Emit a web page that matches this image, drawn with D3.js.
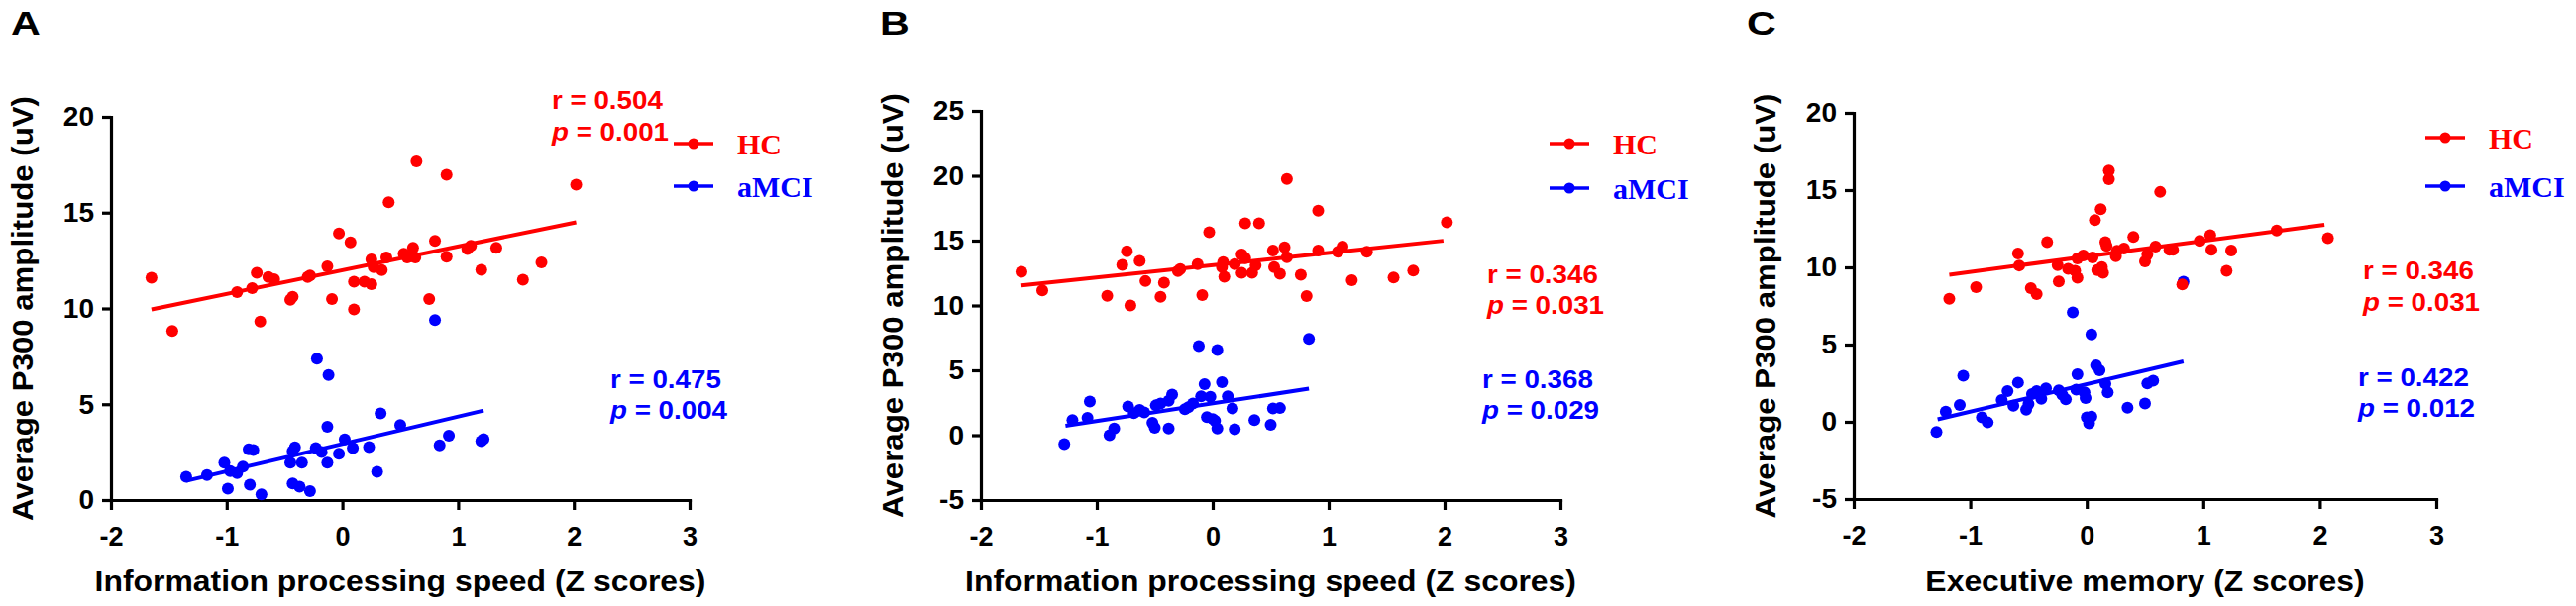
<!DOCTYPE html>
<html>
<head>
<meta charset="utf-8">
<script src="https://cdn.jsdelivr.net/npm/d3@7"></script>
<style>
  body { margin: 0; background: #fff; }
  svg text { font-family: "Liberation Sans", Arial, sans-serif; font-weight: bold; }
</style>
</head>
<body>
<svg id="chart" width="2600" height="612"></svg>
<script>

//******************************************************************************
//**  Data
//******************************************************************************
var panelLetters = ["A", "B", "C"];
var xTitles = [
    "Information processing speed (Z scores)",
    "Information processing speed (Z scores)",
    "Executive memory (Z scores)"
];
var yTitle = "Average P300 amplitude (uV)";
var groups = ["HC", "aMCI"];
var xTicks = [-2, -1, 0, 1, 2, 3];
var yTicksA = [0, 5, 10, 15, 20];
var yTicksB = [-5, 0, 5, 10, 15, 20, 25];
var yTicksC = [-5, 0, 5, 10, 15, 20];

var hcA = [
    [-1.65,11.6],[-1.47,8.82],[-0.91,10.85],[-0.78,11.06],[-0.74,11.86],[-0.71,9.31],
    [-0.64,11.64],[-0.59,11.52],[-0.45,10.45],[-0.43,10.61],[-0.30,11.64],[-0.28,11.72],
    [-0.13,12.2],[-0.09,10.49],[-0.03,13.91],[0.07,13.45],[0.10,11.4],[0.10,9.95],
    [0.19,11.4],[0.25,11.26],[0.25,12.56],[0.27,12.16],[0.34,12.0],[0.38,12.66],
    [0.40,15.54],[0.53,12.86],[0.56,12.66],[0.61,13.17],[0.63,12.66],[0.64,17.67],
    [0.75,10.49],[0.80,13.53],[0.90,12.7],[0.90,16.98],[1.08,13.1],[1.11,13.27],
    [1.20,12.02],[1.33,13.17],[1.56,11.5],[1.72,12.4],[2.02,16.46]
];
var amciA = [
    [-1.35,1.21],[-1.17,1.31],[-1.02,1.95],[-0.99,0.60],[-0.97,1.51],[-0.91,1.41],
    [-0.86,1.75],[-0.81,2.65],[-0.80,0.80],[-0.77,2.61],[-0.70,0.30],[-0.45,1.95],
    [-0.43,2.55],[-0.41,2.75],[-0.43,0.86],[-0.37,0.70],[-0.35,1.95],[-0.28,0.46],
    [-0.23,2.71],[-0.22,7.38],[-0.18,2.51],[-0.13,1.95],[-0.13,3.82],[-0.12,6.53],
    [-0.03,2.41],[0.02,3.16],[0.09,2.71],[0.23,2.77],[0.30,1.47],[0.33,4.52],
    [0.50,3.92],[0.80,9.39],[0.84,2.85],[0.92,3.36],[1.20,3.08],[1.22,3.18]
];
var hcB = [
    [-1.65,12.6],[-1.47,11.16],[-0.91,10.75],[-0.78,13.13],[-0.74,14.18],[-0.71,10.0],
    [-0.63,13.43],[-0.58,11.88],[-0.45,10.66],[-0.42,11.76],[-0.30,12.66],[-0.28,12.81],
    [-0.13,13.19],[-0.09,10.81],[-0.03,15.64],[0.08,12.96],[0.09,13.34],[0.10,12.21],
    [0.19,13.19],[0.25,12.51],[0.25,13.94],[0.28,13.64],[0.28,16.33],[0.34,12.51],
    [0.37,13.1],[0.40,16.33],[0.52,14.24],[0.53,12.96],[0.58,12.45],[0.62,14.48],
    [0.64,13.73],[0.64,19.76],[0.76,12.36],[0.81,10.72],[0.91,14.24],[0.91,17.31],
    [1.08,14.15],[1.12,14.54],[1.20,11.94],[1.33,14.15],[1.56,12.15],[1.73,12.69],
    [2.02,16.42]
];
var amciB = [
    [-1.28,-0.69],[-1.21,1.16],[-1.08,1.34],[-1.06,2.6],[-0.89,0.0],[-0.85,0.51],
    [-0.73,2.21],[-0.68,1.70],[-0.63,1.94],[-0.59,1.76],[-0.52,0.96],[-0.50,0.57],
    [-0.49,2.30],[-0.45,2.45],[-0.38,0.51],[-0.38,2.66],[-0.35,3.13],[-0.24,2.0],
    [-0.21,2.15],[-0.17,2.45],[-0.12,6.87],[-0.10,2.99],[-0.07,3.94],[-0.05,1.40],
    [-0.02,2.96],[0.0,1.25],[0.02,1.10],[0.04,0.51],[0.04,6.57],[0.08,4.09],
    [0.13,2.99],[0.17,2.06],[0.19,0.45],[0.36,1.16],[0.50,0.81],[0.52,2.06],
    [0.58,2.09],[0.83,7.43]
];
var hcC = [
    [-1.18,7.97],[-0.95,8.72],[-0.59,10.89],[-0.58,10.12],[-0.48,8.65],[-0.43,8.27],
    [-0.34,11.64],[-0.25,10.14],[-0.24,9.09],[-0.16,9.9],[-0.10,9.77],[-0.08,9.32],
    [-0.08,10.57],[-0.03,10.77],[0.05,10.64],[0.07,13.06],[0.09,9.82],[0.12,13.76],
    [0.13,10.02],[0.14,9.64],[0.16,11.64],[0.17,11.39],[0.19,16.26],[0.19,15.71],
    [0.25,10.72],[0.26,11.07],[0.32,11.22],[0.40,11.97],[0.50,10.39],[0.52,10.84],
    [0.59,11.34],[0.63,14.88],[0.71,11.14],[0.74,11.14],[0.82,8.9],[0.97,11.72],
    [1.06,12.09],[1.07,11.14],[1.20,9.77],[1.24,11.09],[1.63,12.39],[2.07,11.89]
];
var amciC = [
    [-1.29,-0.66],[-1.21,0.66],[-1.09,1.09],[-1.06,2.98],[-0.90,0.29],[-0.85,-0.04],
    [-0.73,1.41],[-0.68,1.99],[-0.63,1.04],[-0.59,2.54],[-0.52,0.79],[-0.50,1.16],
    [-0.47,1.79],[-0.43,1.99],[-0.39,1.49],[-0.35,2.16],[-0.24,2.04],[-0.21,1.74],
    [-0.18,1.46],[-0.12,7.08],[-0.09,2.09],[-0.08,3.08],[-0.02,1.91],[-0.01,1.54],
    [0.0,0.29],[0.02,-0.09],[0.04,0.34],[0.04,5.66],[0.08,3.66],[0.11,3.33],
    [0.16,2.46],[0.18,1.91],[0.35,0.91],[0.50,1.19],[0.52,2.49],[0.57,2.66],
    [0.83,9.07]
];

// fitted regression lines, end points
var fitHcA = [[-1.65,9.95],[2.02,14.5]];
var fitAmciA = [[-1.35,1.0],[1.22,4.67]];
var fitHcB = [[-1.65,11.55],[1.99,14.99]];
var fitAmciB = [[-1.27,0.72],[0.83,3.58]];
var fitHcC = [[-1.18,9.52],[2.04,12.76]];
var fitAmciC = [[-1.28,0.16],[0.83,3.91]];

// correlation labels [r, p]
var statsHc = [["0.504","0.001"],["0.346","0.031"],["0.346","0.031"]];
var statsAmci = [["0.475","0.004"],["0.368","0.029"],["0.422","0.012"]];


//******************************************************************************
//**  Layout
//******************************************************************************
var colors = {HC: "#ff0000", aMCI: "#0000ff"};

var panels = [
    {left:112, right:696, top:118, bottom:505, yDomain:[0,20], yTicks:yTicksA,
     hc:hcA, amci:amciA, fitHc:fitHcA, fitAmci:fitAmciA,
     letter:[11,35], legend:[680,145,188],
     hcLabel:[557,110,142], amciLabel:[616,392,423]},
    {left:990, right:1575, top:112, bottom:505, yDomain:[-5,25], yTicks:yTicksB,
     hc:hcB, amci:amciB, fitHc:fitHcB, fitAmci:fitAmciB,
     letter:[888,35], legend:[1564,145,190],
     hcLabel:[1501,286,317], amciLabel:[1496,392,423]},
    {left:1871, right:2459, top:114, bottom:504, yDomain:[-5,20], yTicks:yTicksC,
     hc:hcC, amci:amciC, fitHc:fitHcC, fitAmci:fitAmciC,
     letter:[1763,35], legend:[2448,139,188],
     hcLabel:[2385,282,314], amciLabel:[2380,390,421]}
];

var svg = d3.select("#chart");


//**************************************************************************
//** stretch
//**************************************************************************
/** Widens text horizontally; the figure was scaled wider than tall */
var stretch = function(sel, k){
    sel.each(function(){
        var w = this.getComputedTextLength();
        d3.select(this)
          .attr("textLength", w * k)
          .attr("lengthAdjust", "spacingAndGlyphs");
    });
};


//**************************************************************************
//** drawPanel
//**************************************************************************
var drawPanel = function(cfg, i){

    var g = svg.append("g");

    var x = d3.scaleLinear().domain([-2, 3]).range([cfg.left, cfg.right]);
    var y = d3.scaleLinear().domain(cfg.yDomain).range([cfg.bottom, cfg.top]);


  //Axes
    var xAxis = g.append("g")
        .attr("transform", "translate(0," + cfg.bottom + ")")
        .call(d3.axisBottom(x)
            .tickValues(xTicks)
            .tickSize(10)
            .tickSizeOuter(0)
            .tickPadding(17)
            .tickFormat(function(d){ return String(d); }));

    var yAxis = g.append("g")
        .attr("transform", "translate(" + cfg.left + ",0)")
        .call(d3.axisLeft(y)
            .tickValues(cfg.yTicks)
            .tickSize(9)
            .tickSizeOuter(0)
            .tickPadding(8)
            .tickFormat(function(d){ return String(d); }));

    [xAxis, yAxis].forEach(function(a){
        a.select(".domain").attr("stroke", "#000").attr("stroke-width", 3.2)
         .attr("stroke-linecap", "square");
        a.selectAll(".tick line").attr("stroke", "#000").attr("stroke-width", 3.2);
        a.selectAll(".tick text").attr("fill", "#000")
         .style("font-family", "'Liberation Sans', Arial, sans-serif")
         .style("font-weight", "bold");
    });
    xAxis.selectAll(".tick text").style("font-size", "27px");
    yAxis.selectAll(".tick text").style("font-size", "28px");


  //Axis titles
    g.append("text")
        .attr("x", (cfg.left + cfg.right) / 2)
        .attr("y", 597)
        .attr("text-anchor", "middle")
        .style("font-size", "29px")
        .text(xTitles[i])
        .call(stretch, 1.1);

    g.append("text")
        .attr("transform", "translate(" + (cfg.left - 79) + "," + ((cfg.top + cfg.bottom) / 2) + ") rotate(-90)")
        .attr("text-anchor", "middle")
        .style("font-size", "30px")
        .text(yTitle)
        .call(stretch, 1.04);


  //Panel letter
    g.append("text")
        .attr("x", cfg.letter[0])
        .attr("y", cfg.letter[1])
        .style("font-size", "33px")
        .text(panelLetters[i])
        .call(stretch, 1.25);


  //Points (aMCI first, HC on top)
    [["aMCI", cfg.amci], ["HC", cfg.hc]].forEach(function(s){
        g.append("g").selectAll("circle")
            .data(s[1])
            .enter().append("circle")
            .attr("cx", function(d){ return x(d[0]); })
            .attr("cy", function(d){ return y(d[1]); })
            .attr("r", 6)
            .attr("fill", colors[s[0]]);
    });


  //Fit lines
    var line = d3.line()
        .x(function(d){ return x(d[0]); })
        .y(function(d){ return y(d[1]); });

    [["HC", cfg.fitHc], ["aMCI", cfg.fitAmci]].forEach(function(s){
        g.append("path")
            .attr("d", line(s[1]))
            .attr("fill", "none")
            .attr("stroke", colors[s[0]])
            .attr("stroke-width", 4);
    });


  //Legend
    groups.forEach(function(name, j){
        var lx = cfg.legend[0];
        var ly = cfg.legend[1 + j];
        g.append("line")
            .attr("x1", lx).attr("x2", lx + 40)
            .attr("y1", ly).attr("y2", ly)
            .attr("stroke", colors[name])
            .attr("stroke-width", 3.5);
        g.append("circle")
            .attr("cx", lx + 20).attr("cy", ly)
            .attr("r", 5.5)
            .attr("fill", colors[name]);
        g.append("text")
            .attr("x", lx + 64)
            .attr("y", ly + 11)
            .attr("fill", colors[name])
            .style("font-family", "'Liberation Serif', 'Times New Roman', serif")
            .style("font-size", "30px")
            .text(name);
    });


  //Correlation labels
    [["HC", statsHc[i], cfg.hcLabel], ["aMCI", statsAmci[i], cfg.amciLabel]].forEach(function(s){
        var pos = s[2];
        var r = g.append("text")
            .attr("x", pos[0]).attr("y", pos[1])
            .attr("fill", colors[s[0]])
            .style("font-size", "25px")
            .text("r = " + s[1][0]);
        var p = g.append("text")
            .attr("x", pos[0]).attr("y", pos[2])
            .attr("fill", colors[s[0]])
            .style("font-size", "25px");
        p.append("tspan").style("font-style", "italic").text("p");
        p.append("tspan").text(" = " + s[1][1]);
        stretch(r, 1.11);
        stretch(p, 1.11);
    });
};

panels.forEach(drawPanel);

</script>
</body>
</html>
